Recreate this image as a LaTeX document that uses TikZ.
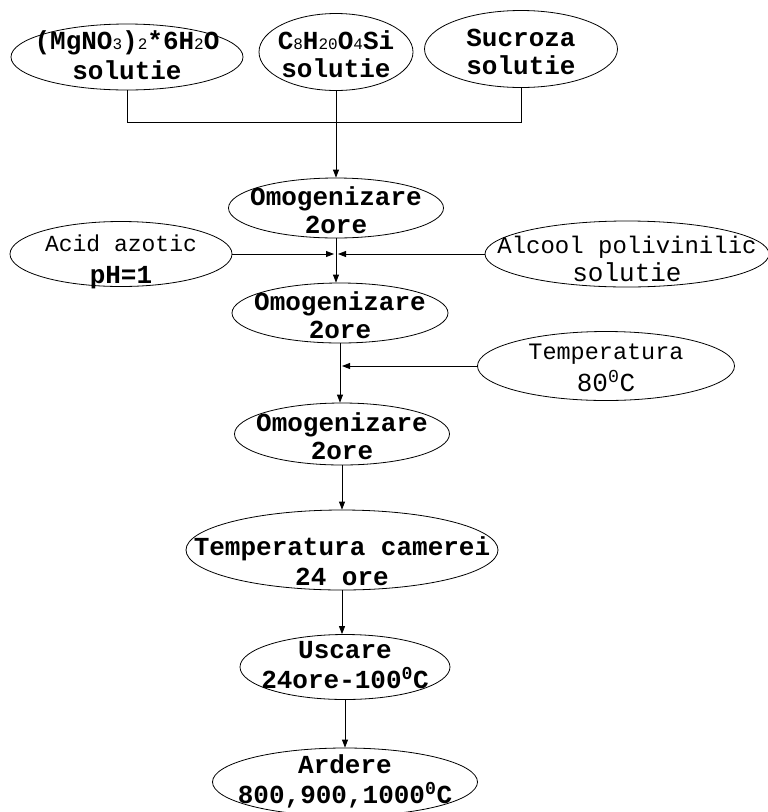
\documentclass[tikz,border=0pt]{standalone}
\usepackage{fontspec}
\setmonofont{Liberation Mono}
\usetikzlibrary{shapes.geometric, arrows.meta, positioning}

\newcommand{\inell}[2][-12pt]{\smash{\makebox[0pt]{\raisebox{#1}{\begin{tabular}{@{}c@{}}#2\end{tabular}}}}}
\newcommand{\chsub}[1]{{\mdseries\fontsize{16}{16}\selectfont #1}}

\begin{document}
\begin{tikzpicture}[
        x=1pt, y=1pt,
        proc/.style={ellipse, draw=black, line width=0.8pt, inner sep=0pt, font=\ttfamily\bfseries\fontsize{26}{28}\selectfont},
        flow/.style={-{Triangle[length=8pt, width=6pt]}, line width=0.9pt},
        link/.style={line width=0.9pt}
    ]
        \useasboundingbox (0,0) rectangle (768,-812);
        % starting solutions
        \node[proc, minimum width=232pt, minimum height=66pt] (mg) at (127,-57) {\inell[-8pt]{(MgNO\chsub{3})\chsub{2}*6H\chsub{2}O\\[2pt]solutie}};
        \node[proc, minimum width=154pt, minimum height=77pt] (c8) at (336,-52) {\inell{C\chsub{8}H\chsub{20}O\chsub{4}Si\\solutie}};
        \node[proc, minimum width=193pt, minimum height=77pt] (suc) at (521,-49) {\inell{Sucroza\\solutie}};
        % process chain
        \node[proc, minimum width=215pt, minimum height=60pt] (om1) at (336,-208) {\inell{Omogenizare\\2ore}};
        \node[proc, minimum width=222pt, minimum height=65pt] (acid) at (121,-254) {\inell[-14pt]{{\mdseries\fontsize{23}{25}\selectfont Acid azotic}\\[4pt]pH=1}};
        \node[proc, minimum width=284pt, minimum height=66pt] (alc) at (627,-254) {\inell[-14pt]{{\mdseries\fontsize{24}{26}\selectfont Alcool polivinilic}\\{\mdseries solutie}}};
        \node[proc, minimum width=216pt, minimum height=60pt] (om2) at (340,-313) {\inell{Omogenizare\\2ore}};
        \node[proc, minimum width=257pt, minimum height=69pt] (temp) at (606,-366) {\inell[-10pt]{{\mdseries\fontsize{23.5}{25}\selectfont Temperatura}\\[3pt]{\mdseries 80\textsuperscript{0}C}}};
        \node[proc, minimum width=215pt, minimum height=62pt] (om3) at (342,-434) {\inell{Omogenizare\\2ore}};
        \node[proc, minimum width=312pt, minimum height=80pt] (cam) at (342,-550) {\inell[-21pt]{Temperatura camerei\\[2pt]24 ore}};
        \node[proc, minimum width=210pt, minimum height=65pt] (usc) at (345,-667) {\inell[-7pt]{Uscare\\24ore-100\textsuperscript{0}C}};
        \node[proc, minimum width=265pt, minimum height=68pt] (ard) at (345,-782) {\inell[-7pt]{Ardere\\800,900,1000\textsuperscript{0}C}};
        % connectors
        \coordinate (join) at (336,-122);
        \draw[link] (mg.south) |- (join);
        \draw[link] (suc.south) |- (join);
        \draw[link] (c8.south) -- (join);
        \draw[flow] (join) -- (join |- om1.north);
        \coordinate (m1) at (om1.south |- acid.east);
        \draw[flow] (om1.south) -- (om1.south |- om2.north);
        \draw[flow] (acid.east) -- ([xshift=-2pt]m1);
        \draw[flow] (alc.west) -- ([xshift=2pt]m1);
        \coordinate (m2) at (om2.south |- temp.west);
        \draw[flow] (om2.south) -- (om2.south |- om3.north);
        \draw[flow] (temp.west) -- ([xshift=2pt]m2);
        \draw[flow] (om3.south) -- (om3.south |- cam.north);
        \draw[flow] (cam.south) -- (cam.south |- usc.north);
        \draw[flow] (usc.south) -- (usc.south |- ard.north);
    \end{tikzpicture}
\end{document}
